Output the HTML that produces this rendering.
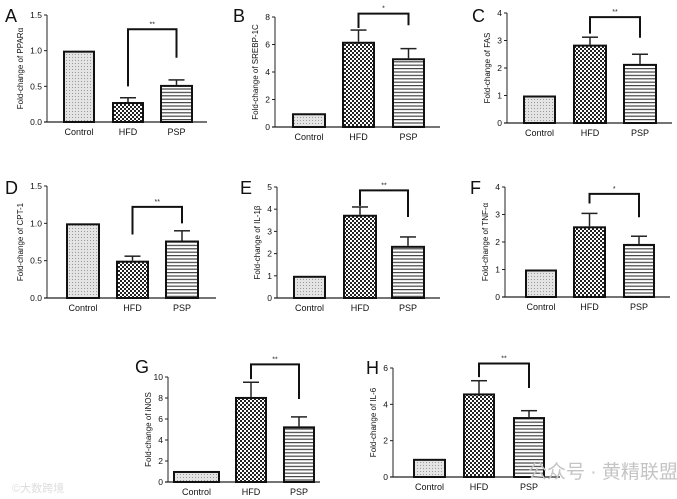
<!DOCTYPE html>
<html><head><meta charset="utf-8"><style>
html,body{margin:0;padding:0;background:#fff;}
svg{display:block;font-family:"Liberation Sans",Arial,sans-serif;}
</style></head><body>
<svg id="s" width="677" height="499" viewBox="0 0 677 499" xmlns="http://www.w3.org/2000/svg">
<defs>
<pattern id="pc" width="3" height="3" patternUnits="userSpaceOnUse"><rect width="3" height="3" fill="#e4e4e4"/><rect width="1" height="1" fill="#999"/></pattern>
<pattern id="ph" width="4" height="4" patternUnits="userSpaceOnUse"><rect width="4" height="4" fill="#fff"/><rect width="2" height="2" fill="#222"/><rect x="2" y="2" width="2" height="2" fill="#222"/></pattern>
<pattern id="pp" width="4" height="3.4" patternUnits="userSpaceOnUse"><rect width="4" height="3.4" fill="#fff"/><rect width="4" height="1.2" fill="#444"/></pattern>
</defs>
</svg>
<script>
var P=[
{L:"A",lx:5,ly:22,ax:47,top:15,bot:122,max:1.5,ticks:[0,0.5,1,1.5],fmt:1,yl:"Fold-change of PPARα",bars:[[63,95,1,0],[112,144,0.28,0.06],[160,193,0.52,0.07]],end:207,br:[0.5,1.3,0.9],st:"**"},
{L:"B",lx:233,ly:22,ax:275,top:17,bot:127,max:8,ticks:[0,2,4,6,8],fmt:0,yl:"Fold-change of SREBP-1C",bars:[[292,326,1,0],[342,375,6.2,0.85],[392,425,5.0,0.7]],end:440,br:[7.2,8.25,7.4],st:"*"},
{L:"C",lx:472,ly:22,ax:507,top:13,bot:123,max:4,ticks:[0,1,2,3,4],fmt:0,yl:"Fold-change of FAS",bars:[[523,556,1,0],[573,607,2.85,0.27],[623,657,2.15,0.35]],end:672,br:[3.25,3.85,3.1],st:"**"},
{L:"D",lx:5,ly:194,ax:47,top:186,bot:298,max:1.5,ticks:[0,0.5,1,1.5],fmt:1,yl:"Fold-change of CPT-1",bars:[[66,100,1,0],[116,149,0.5,0.06],[165,199,0.77,0.13]],end:216,br:[0.85,1.22,1.0],st:"**"},
{L:"E",lx:240,ly:194,ax:277,top:187,bot:298,max:5,ticks:[0,1,2,3,4,5],fmt:0,yl:"Fold-change of IL-1β",bars:[[293,326,1,0],[343,377,3.75,0.35],[391,425,2.35,0.4]],end:440,br:[4.15,4.85,3.65],st:"**"},
{L:"F",lx:470,ly:194,ax:505,top:187,bot:297,max:4,ticks:[0,1,2,3,4],fmt:0,yl:"Fold-change of TNF-α",bars:[[525,557,1,0],[573,606,2.57,0.47],[623,655,1.93,0.28]],end:670,br:[3.4,3.75,2.9],st:"*"},
{L:"G",lx:135,ly:373,ax:168,top:377,bot:482,max:10,ticks:[0,2,4,6,8,10],fmt:0,yl:"Fold-change of iNOS",bars:[[173,220,1.05,0],[235,267,8.1,1.4],[283,315,5.3,0.9]],end:320,br:[9.8,11.2,7.9],st:"**"},
{L:"H",lx:366,ly:374,ax:393,top:368,bot:477,max:6,ticks:[0,2,4,6],fmt:0,yl:"Fold-change of IL-6",bars:[[413,446,1,0],[463,495,4.6,0.7],[513,545,3.3,0.35]],end:560,br:[5.5,6.25,4.9],st:"**"}
];
var names=["Control","HFD","PSP"],fills=["url(#pc)","url(#ph)","url(#pp)"];
var h='';
P.forEach(function(p){
 var Y=function(v){return p.bot-(p.bot-p.top)*v/p.max;};
 h+='<text x="'+p.lx+'" y="'+p.ly+'" font-size="18" fill="#111">'+p.L+'</text>';
 h+='<line x1="'+p.ax+'" y1="'+p.top+'" x2="'+p.ax+'" y2="'+p.bot+'" stroke="#222" stroke-width="1"/>';
 h+='<line x1="'+(p.ax-3)+'" y1="'+p.bot+'" x2="'+p.end+'" y2="'+p.bot+'" stroke="#222" stroke-width="1.3"/>';
 p.ticks.forEach(function(t){var y=Y(t);
  h+='<line x1="'+(p.ax-3)+'" y1="'+y+'" x2="'+p.ax+'" y2="'+y+'" stroke="#222"/>';
  h+='<text x="'+(p.ax-5)+'" y="'+(y+3)+'" font-size="8.5" text-anchor="end" fill="#111">'+(p.fmt?t.toFixed(1):t)+'</text>';});
 var cy=(p.top+p.bot)/2,tx=p.ax-(p.fmt?24:17);
 h+='<text transform="translate('+tx+','+cy+') rotate(-90)" font-size="8" text-anchor="middle" fill="#111">'+p.yl+'</text>';
 p.bars.forEach(function(b,i){var y=Y(b[2]),c=(b[0]+b[1])/2;
  if(b[3]){var ye=Y(b[2]+b[3]);h+='<line x1="'+c+'" y1="'+y+'" x2="'+c+'" y2="'+ye+'" stroke="#222" stroke-width="1.5"/><line x1="'+(c-8)+'" y1="'+ye+'" x2="'+(c+8)+'" y2="'+ye+'" stroke="#222" stroke-width="1.5"/>';}
  h+='<rect x="'+(b[0]+1)+'" y="'+(y+1)+'" width="'+(b[1]-b[0]-2)+'" height="'+(p.bot-y-1)+'" fill="'+fills[i]+'" stroke="#111" stroke-width="2"/>';
  h+='<text x="'+c+'" y="'+(p.bot+13)+'" font-size="9" text-anchor="middle" fill="#111">'+names[i]+'</text>';});
 var c1=(p.bars[1][0]+p.bars[1][1])/2,c2=(p.bars[2][0]+p.bars[2][1])/2,yt=Y(p.br[1]);
 h+='<polyline points="'+c1+','+Y(p.br[0])+' '+c1+','+yt+' '+c2+','+yt+' '+c2+','+Y(p.br[2])+'" fill="none" stroke="#111" stroke-width="2"/>';
 h+='<text x="'+((c1+c2)/2)+'" y="'+(yt-3)+'" font-size="7" text-anchor="middle" fill="#222">'+p.st+'</text>';
});
h+='<text x="528" y="478" font-size="19" fill="#c4c4c4" font-family="Liberation Sans,Noto Sans CJK SC,sans-serif">公众号 · 黄精联盟</text>';
h+='<text x="12" y="492" font-size="11" fill="#ddd" font-family="Liberation Sans,Noto Sans CJK SC,sans-serif">©大数跨境</text>';
document.getElementById('s').insertAdjacentHTML('beforeend',h);
</script>
</body></html>
